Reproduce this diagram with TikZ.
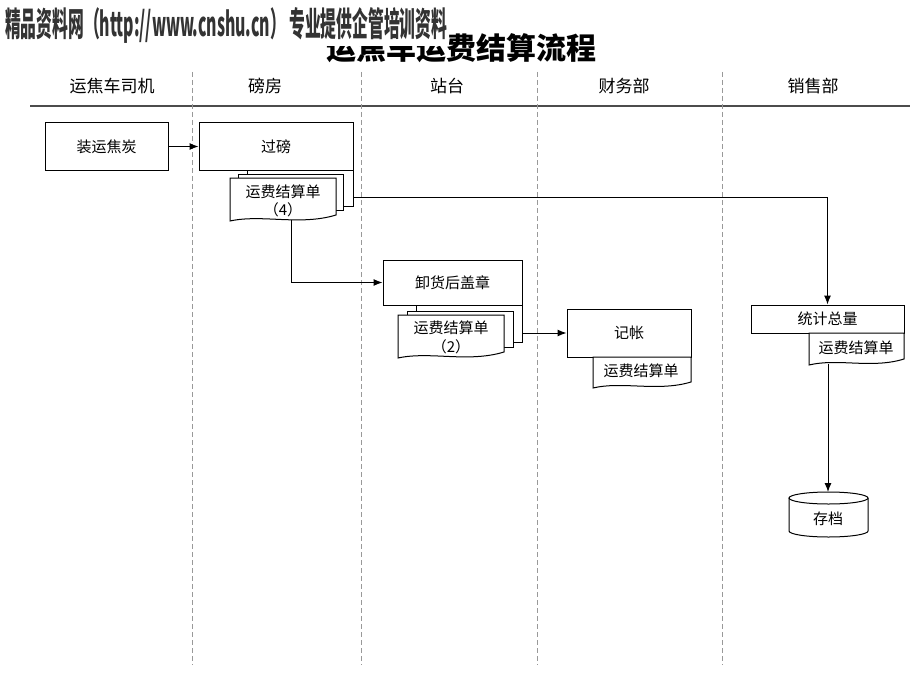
\documentclass[tikz,border=0pt]{standalone}
\usepackage{fontspec}
\setmainfont{Noto Sans CJK SC}
\usetikzlibrary{arrows.meta}
\tikzset{
  box/.style={draw, line width=1pt, fill=white, inner sep=0pt, font=\fontsize{15}{18}\selectfont},
  lbl/.style={inner sep=0pt, font=\fontsize{15}{18}\selectfont},
  lane/.style={inner sep=0pt, font=\fontsize{17}{20}\selectfont},
  laneline/.style={draw=gray!80, line width=0.8pt, dash pattern=on 5pt off 3pt},
  docline/.style={draw, line width=1pt, fill=white},
  conn/.style={line width=1pt, -{Latex[length=9pt,width=7pt]}},
  plain/.style={line width=1pt}
}
\begin{document}
\begin{tikzpicture}[x=1pt,y=-1pt]
\useasboundingbox (0,0) rectangle (920,690);
% title
\node[inner sep=0pt, font=\fontsize{30}{34}\selectfont\bfseries] (title) at (461,48) {运焦车运费结算流程};
\fill[white] (0,0) rectangle (449,46);
\node[inner sep=0pt, text=black!80, anchor=north west] (wm) at (5,7)
  {\resizebox{442pt}{29pt}{\bfseries 精品资料网（http://www.cnshu.cn） 专业提供企管培训资料}};
% lanes
\node[lane] (l1) at (112,86) {运焦车司机};
\node[lane] (l2) at (265,86) {磅房};
\node[lane] (l3) at (447,86) {站台};
\node[lane] (l4) at (624,86) {财务部};
\node[lane] (l5) at (813,86) {销售部};
\draw[line width=2pt, draw=black!70] (30,106) -- (910,106);
\foreach \x in {192,361,537,722} \draw[laneline] (\x,72) -- (\x,665);
% boxes
\node[box, minimum width=123pt, minimum height=47pt] (zy) at (106.5,146.5) {装运焦炭};
\node[box, minimum width=154pt, minimum height=47pt] (gb) at (276,146.5) {过磅};
% stack 4
\draw[docline] (247,170) rectangle (353,206);
\draw[docline] (238,174) rectangle (343,210);
\draw[docline] (230,178) -- (336,178) -- (336,215) .. controls (300,226) and (262,214) .. (230,221) -- cycle;
\node[lbl] (d4) at (283,192) {运费结算单};
\node[lbl] (d4n) at (283,210) {（4）};
\coordinate (s4r) at (353,197);
\coordinate (s4b) at (291,219.5);
% unload
\node[box, minimum width=139pt, minimum height=45pt] (xh) at (452.5,282.5) {卸货后盖章};
\draw[docline] (416,305) rectangle (522,342);
\draw[docline] (407,311) rectangle (513,347);
\draw[docline] (398,315) -- (504,315) -- (504,352) .. controls (468,363) and (430,351) .. (398,358) -- cycle;
\node[lbl] (d2) at (451,328) {运费结算单};
\node[lbl] (d2n) at (451,347) {（2）};
\coordinate (s2r) at (522,333);
% accounting
\node[box, minimum width=124pt, minimum height=48pt] (jz) at (629,333) {记帐};
\draw[docline] (593,357) -- (691,357) -- (691,382) .. controls (658,392) and (622,381) .. (593,388) -- cycle;
\node[lbl] (dj) at (641,371) {运费结算单};
% sales
\node[box, minimum width=153pt, minimum height=28pt] (tj) at (827.5,319) {统计总量};
\draw[docline] (809,333) -- (904,333) -- (904,359) .. controls (872,369) and (838,358) .. (809,365) -- cycle;
\node[lbl] (dt) at (856,348) {运费结算单};
\coordinate (tjb) at (828,364);
% cylinder
\draw[docline] (789,498) -- (789,531) arc[start angle=180, end angle=0, x radius=39.5, y radius=6] -- (868,498);
\draw[docline] (828.5,498) ellipse[x radius=39.5, y radius=6];
\coordinate (cdt) at (828,492);
\node[lbl] (cd) at (828,519) {存档};
% connectors
\draw[conn] (zy.east) -- (gb.west);
\draw[conn] (s4r) -| (tj.north);
\draw[conn] (s4b) |- (xh.west);
\draw[conn] (s2r) -- (jz.west);
\draw[conn] (tjb) -- (cdt);
\end{tikzpicture}
\end{document}
